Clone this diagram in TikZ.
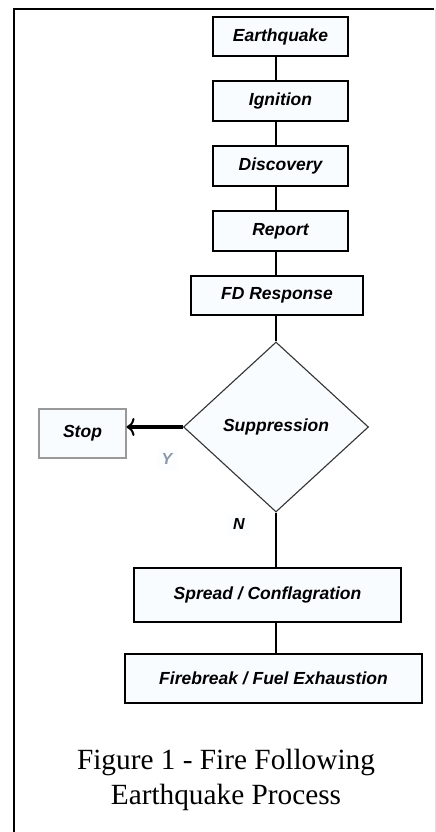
\documentclass[tikz,border=0pt]{standalone}
\usepackage{fontspec}
\setmainfont{Liberation Serif}
\newfontfamily\boxfont{Liberation Sans}
\usetikzlibrary{shapes.geometric,arrows.meta}
\definecolor{boxfill}{HTML}{F9FCFF}
\definecolor{lblfill}{HTML}{FBFDFF}
\definecolor{ygray}{HTML}{8A98A8}
\tikzset{
  procbox/.style={draw=black, line width=1.1pt, fill=boxfill, inner sep=0pt,
    font=\boxfont\bfseries\itshape\fontsize{17.5}{20}\selectfont},
  conn/.style={draw=black, line width=1.2pt},
  lbl/.style={fill=lblfill, inner sep=5pt, font=\boxfont\bfseries\itshape\fontsize{16}{18}\selectfont},
}
\begin{document}
\begin{tikzpicture}[x=1pt,y=-1pt]
\useasboundingbox (0,0) rectangle (436,832);
\fill[white] (0,0) rectangle (436,832);
% frame
\draw[line width=2pt, black] (14,832) -- (14,9) -- (434,9);
\draw[line width=0.8pt, black!12] (435,9) -- (435,832);
% nodes
\node[procbox, minimum width=135pt, minimum height=39pt] (eq) at (280.5,36.5) {Earthquake};
\node[procbox, minimum width=135pt, minimum height=40pt] (ig) at (280.5,101) {Ignition};
\node[procbox, minimum width=135pt, minimum height=40pt] (di) at (280.5,166) {Discovery};
\node[procbox, minimum width=135pt, minimum height=40pt] (re) at (280.5,231) {Report};
\node[procbox, minimum width=172pt, minimum height=39pt] (fd) at (277,295.5) {FD Response};
\node[procbox, shape=diamond, draw=black!80, minimum width=185pt, minimum height=170pt] (su) at (276,427) {Suppression};
\node[procbox, draw=black!40, minimum width=87pt, minimum height=49pt] (st) at (82.5,433.5) {Stop};
\node[procbox, minimum width=267pt, minimum height=54pt] (sp) at (267.5,595) {Spread / Conflagration};
\node[procbox, minimum width=297pt, minimum height=49pt] (fb) at (273.5,678.5) {Firebreak / Fuel Exhaustion};
\node[lbl, text=ygray] (y) at (167,459) {Y};
\node[lbl] (n) at (239,524) {N};
\coordinate (axis) at (276,0);
% connectors
\draw[conn] (eq.south -| axis) -- (ig.north -| axis);
\draw[conn] (ig.south -| axis) -- (di.north -| axis);
\draw[conn] (di.south -| axis) -- (re.north -| axis);
\draw[conn] (re.south -| axis) -- (fd.north -| axis);
\draw[conn] (fd.south -| axis) -- (su.north);
\draw[conn] (su.south) -- (sp.north -| axis);
\draw[conn] (sp.south -| axis) -- (fb.north -| axis);
\draw[line width=3.8pt, -{To[length=8pt,width=18pt,line width=2pt]}] (su.west) -- (st.east |- su.west);
% caption
\node[font=\fontsize{29.3}{35}\selectfont, align=center] (cap) at (226,780) {Figure 1 - Fire Following\\Earthquake Process};
\end{tikzpicture}
\end{document}
